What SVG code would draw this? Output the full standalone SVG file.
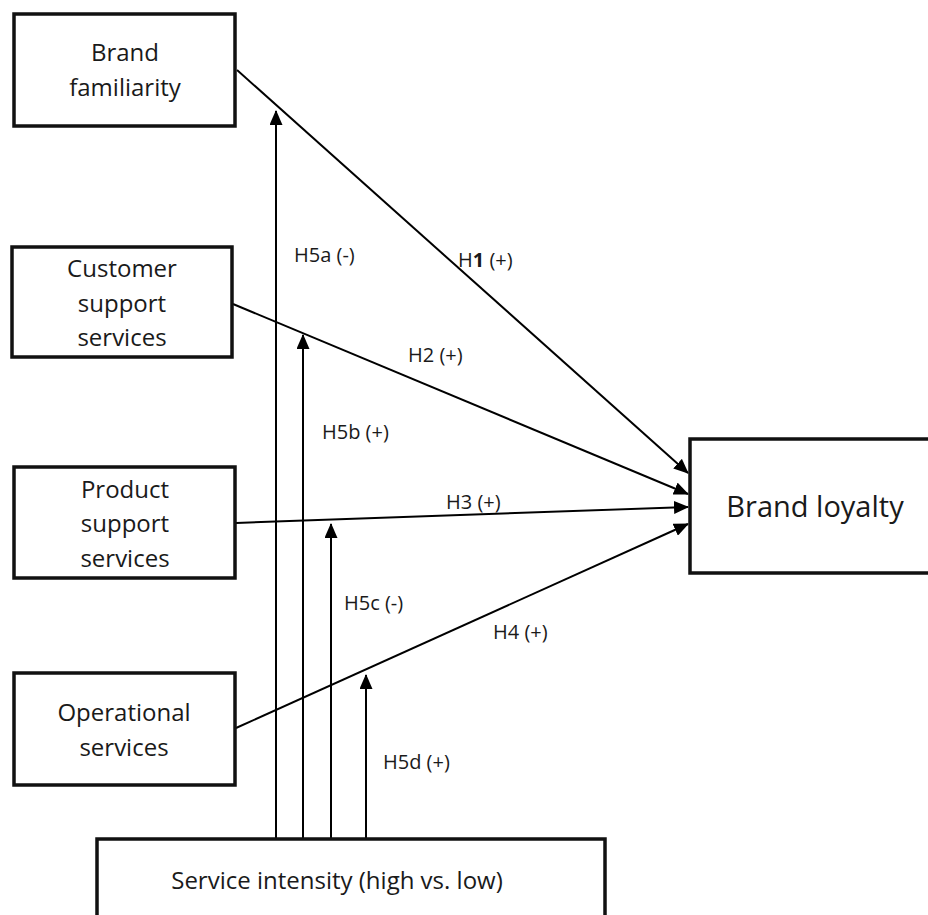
<svg xmlns="http://www.w3.org/2000/svg" width="928" height="915" viewBox="0 0 928 915">
<defs>
<marker id="ah" markerWidth="15" markerHeight="13" refX="14" refY="6.5" orient="auto" markerUnits="userSpaceOnUse">
<path d="M0,0 L15,6.5 L0,13 Z" fill="#000"/>
</marker>
<style>
.box{fill:#fff;stroke:#111;stroke-width:3.5}
.t{font-family:"Open Sans","Noto Sans",sans-serif;font-size:24px;fill:#1a1a1a;text-anchor:middle}
.lbl{font-family:"Open Sans","Noto Sans",sans-serif;font-size:20px;fill:#1a1a1a}
.c{stroke:#000;stroke-width:2;fill:none}
</style>
</defs>
<rect width="928" height="915" fill="#fff"/>
<g id="connectors">
<line class="c" x1="237" y1="70" x2="688" y2="473" marker-end="url(#ah)"/>
<line class="c" x1="233" y1="304" x2="688" y2="494" marker-end="url(#ah)"/>
<line class="c" x1="236" y1="523" x2="688" y2="507" marker-end="url(#ah)"/>
<line class="c" x1="236" y1="728" x2="688" y2="524" marker-end="url(#ah)"/>
<line class="c" x1="276" y1="839" x2="276" y2="111" marker-end="url(#ah)"/>
<line class="c" x1="303" y1="839" x2="303" y2="335" marker-end="url(#ah)"/>
<line class="c" x1="331" y1="839" x2="331" y2="524" marker-end="url(#ah)"/>
<line class="c" x1="366" y1="839" x2="366" y2="675" marker-end="url(#ah)"/>
<text class="lbl" x="294" y="262">H5a (-)</text>
<text class="lbl" x="458" y="267">H<tspan font-weight="bold">1</tspan> (+)</text>
<text class="lbl" x="408" y="362">H2 (+)</text>
<text class="lbl" x="322" y="439">H5b (+)</text>
<text class="lbl" x="446" y="509">H3 (+)</text>
<text class="lbl" x="344" y="610">H5c (-)</text>
<text class="lbl" x="493" y="639">H4 (+)</text>
<text class="lbl" x="383" y="769">H5d (+)</text>
</g>
<g id="brand-familiarity">
<rect class="box" x="14" y="14" width="221" height="112"/>
<text class="t" x="125" y="61">Brand</text>
<text class="t" x="125" y="96">familiarity</text>
</g>
<g id="customer-support">
<rect class="box" x="12" y="247" width="220" height="110"/>
<text class="t" x="122" y="277">Customer</text>
<text class="t" x="122" y="312">support</text>
<text class="t" x="122" y="346">services</text>
</g>
<g id="product-support">
<rect class="box" x="14" y="467" width="221" height="111"/>
<text class="t" x="125" y="498">Product</text>
<text class="t" x="125" y="532">support</text>
<text class="t" x="125" y="567">services</text>
</g>
<g id="operational">
<rect class="box" x="14" y="673" width="221" height="112"/>
<text class="t" x="124" y="721">Operational</text>
<text class="t" x="124" y="756">services</text>
</g>
<g id="brand-loyalty">
<rect class="box" x="690" y="439" width="250" height="134"/>
<text class="t" x="815" y="517" style="font-size:29px">Brand loyalty</text>
</g>
<g id="service-intensity">
<rect class="box" x="97" y="839" width="508" height="100"/>
<text class="t" x="337" y="889">Service intensity (high vs. low)</text>
</g>
</svg>
